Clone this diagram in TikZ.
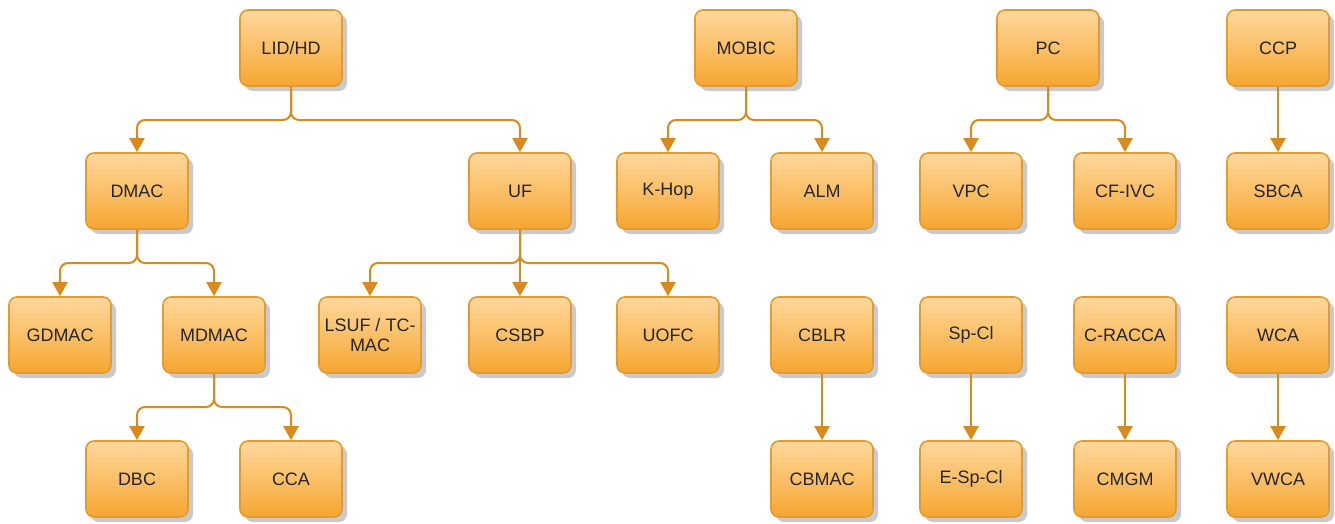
\documentclass[tikz,border=0pt]{standalone}
\usepackage{fontspec}
\setmainfont{Liberation Sans}
\usetikzlibrary{arrows.meta,shadows,positioning}
\definecolor{boxtop}{HTML}{FFD89E}
\definecolor{boxbot}{HTML}{F6A630}
\definecolor{boxline}{HTML}{E39A30}
\definecolor{edgecol}{HTML}{D88A1E}
\begin{document}
\begin{tikzpicture}[x=1pt,y=-1pt,
  box/.style={draw=boxline, line width=1.6pt, rounded corners=8pt,
    top color=boxtop, bottom color=boxbot,
    minimum width=102pt, minimum height=76pt, inner sep=2pt,
    font=\fontsize{18}{20}\selectfont, text=black!85, align=center,
    drop shadow={shadow xshift=5pt, shadow yshift=-5pt, fill=black!35, opacity=0.6}},
  link/.style={draw=edgecol, line width=2pt, rounded corners=8pt,
    -{Triangle[length=14pt,width=15pt]}}]
\useasboundingbox (0,0) rectangle (1335,523);
% row 1
\node[box] (lid) at (291,48) {LID/HD};
\node[box] (mobic) at (746,48) {MOBIC};
\node[box] (pc) at (1048,48) {PC};
\node[box] (ccp) at (1278,48) {CCP};
% row 2
\node[box] (dmac) at (137,191) {DMAC};
\node[box] (uf) at (520,191) {UF};
\node[box] (khop) at (668,191) {K-Hop};
\node[box] (alm) at (822,191) {ALM};
\node[box] (vpc) at (971,191) {VPC};
\node[box] (cfivc) at (1125,191) {CF-IVC};
\node[box] (sbca) at (1278,191) {SBCA};
% row 3
\node[box] (gdmac) at (60,335) {GDMAC};
\node[box] (mdmac) at (214,335) {MDMAC};
\node[box] (lsuf) at (370,335) {LSUF / TC-\\MAC};
\node[box] (csbp) at (520,335) {CSBP};
\node[box] (uofc) at (668,335) {UOFC};
\node[box] (cblr) at (822,335) {CBLR};
\node[box] (spcl) at (971,335) {Sp-Cl};
\node[box] (cracca) at (1125,335) {C-RACCA};
\node[box] (wca) at (1278,335) {WCA};
% row 4
\node[box] (dbc) at (137,479) {DBC};
\node[box] (cca) at (291,479) {CCA};
\node[box] (cbmac) at (822,479) {CBMAC};
\node[box] (espcl) at (971,479) {E-Sp-Cl};
\node[box] (cmgm) at (1125,479) {CMGM};
\node[box] (vwca) at (1278,479) {VWCA};
% connectors
\draw[link] (lid.south) |- (214,120) -| (dmac.north);
\draw[link] (lid.south) |- (400,120) -| (uf.north);
\draw[link] (mobic.south) |- (707,120) -| (khop.north);
\draw[link] (mobic.south) |- (784,120) -| (alm.north);
\draw[link] (pc.south) |- (1010,120) -| (vpc.north);
\draw[link] (pc.south) |- (1086,120) -| (cfivc.north);
\draw[link] (ccp) -- (sbca);
\draw[link] (dmac.south) |- (100,263) -| (gdmac.north);
\draw[link] (dmac.south) |- (176,263) -| (mdmac.north);
\draw[link] (uf.south) |- (445,263) -| (lsuf.north);
\draw[link] (uf) -- (csbp);
\draw[link] (uf.south) |- (594,263) -| (uofc.north);
\draw[link] (mdmac.south) |- (176,407) -| (dbc.north);
\draw[link] (mdmac.south) |- (252,407) -| (cca.north);
\draw[link] (cblr) -- (cbmac);
\draw[link] (spcl) -- (espcl);
\draw[link] (cracca) -- (cmgm);
\draw[link] (wca) -- (vwca);
\end{tikzpicture}
\end{document}
